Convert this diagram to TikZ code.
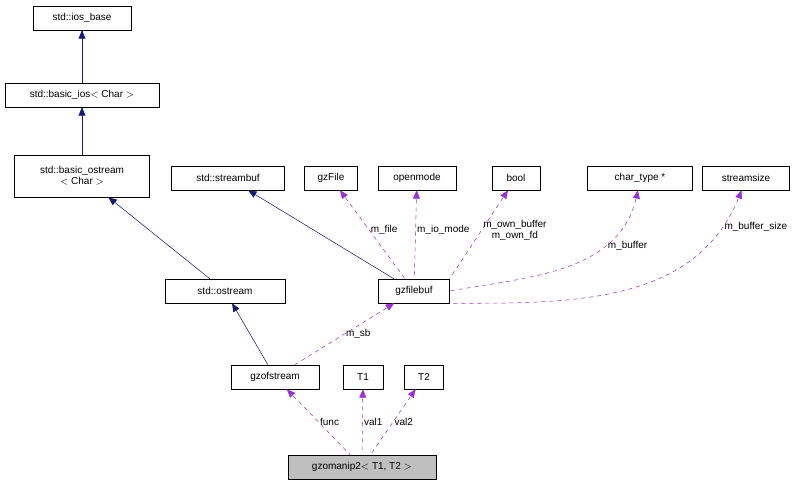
\documentclass[tikz,border=0pt]{standalone}
\usepackage{fontspec}
\setmainfont{Liberation Sans}
\usetikzlibrary{arrows, positioning}
\definecolor{inhBlue}{HTML}{191970}
\definecolor{usePurple}{HTML}{9A32CD}
\tikzset{
    cls/.style={draw, fill=white, inner sep=2pt, minimum height=18pt, font=\fontsize{7.5}{8.5}\selectfont, align=center},
    clsSelf/.style={cls, fill=black!25},
    inhEdge/.style={<-, >=triangle 45, draw=inhBlue, thin},
    useEdge/.style={<-, >=triangle 45, draw=usePurple, dashed, thin},
    lbl/.style={font=\fontsize{7.5}{8.5}\selectfont, inner sep=1pt, align=center},
}
\begin{document}
\begin{tikzpicture}[x=0.75pt, y=-0.75pt]
        \useasboundingbox (0,0) rectangle (807,487);

        \node[cls, minimum width=73.5pt] (iosbase) at (82,18) {std::ios\_base};
        \node[cls, minimum width=115.5pt] (basicios) at (82,95) {std::basic\_ios$<$ Char $>$};
        \node[cls, minimum width=101pt, minimum height=31.5pt] (basicostream) at (82,176) {std::basic\_ostream\\$<$ Char $>$};
        \node[cls, minimum width=85pt] (streambuf) at (228,178) {std::streambuf};
        \node[cls, minimum width=40pt] (gzFile) at (331,178) {gzFile};
        \node[cls, minimum width=58.5pt] (openmode) at (417,178) {openmode};
        \node[cls, minimum width=36pt] (bool) at (516,178) {bool};
        \node[cls, minimum width=79pt] (chartype) at (640,178) {char\_type *};
        \node[cls, minimum width=65pt] (streamsize) at (746,178) {streamsize};
        \node[cls, minimum width=90pt] (ostream) at (225,291) {std::ostream};
        \node[cls, minimum width=53pt] (gzfilebuf) at (414,291) {gzfilebuf};
        \node[cls, minimum width=66pt] (gzofstream) at (275,377) {gzofstream};
        \node[cls, minimum width=30pt] (T1) at (363,377) {T1};
        \node[cls, minimum width=29pt] (T2) at (424,377) {T2};
        \node[clsSelf, minimum width=111pt] (gzomanip) at (362,467) {gzomanip2$<$ T1, T2 $>$};

        \draw[inhEdge] (iosbase) -- (basicios);
        \draw[inhEdge] (basicios) -- (basicostream);
        \draw[inhEdge] (basicostream) -- (ostream);
        \draw[inhEdge] (ostream) -- (gzofstream);
        \draw[inhEdge] (streambuf) -- (gzfilebuf);

        \draw[useEdge] (gzFile) -- node[lbl, right, pos=0.45] {m\_file} (gzfilebuf);
        \draw[useEdge] (openmode) -- node[lbl, right, pos=0.45] {m\_io\_mode} (gzfilebuf);
        \draw[useEdge] (bool) -- node[lbl, right, pos=0.45] {m\_own\_buffer\\m\_own\_fd} (gzfilebuf.north east);
        \draw[useEdge] (chartype) to[out=-100, in=10] node[lbl, right, pos=0.3] {m\_buffer} (gzfilebuf.east);
        \draw[useEdge] (streamsize) to[out=-110, in=0] node[lbl, right, pos=0.12] {m\_buffer\_size} (gzfilebuf.south east);
        \draw[useEdge] (gzfilebuf) -- node[lbl, right, pos=0.5] {m\_sb} (gzofstream);
        \draw[useEdge] (gzofstream) -- node[lbl, right, pos=0.5] {func} (gzomanip);
        \draw[useEdge] (T1) -- node[lbl, right, pos=0.5] {val1} (gzomanip);
        \draw[useEdge] (T2) -- node[lbl, right, pos=0.5] {val2} (gzomanip);

    \end{tikzpicture}
\end{document}
